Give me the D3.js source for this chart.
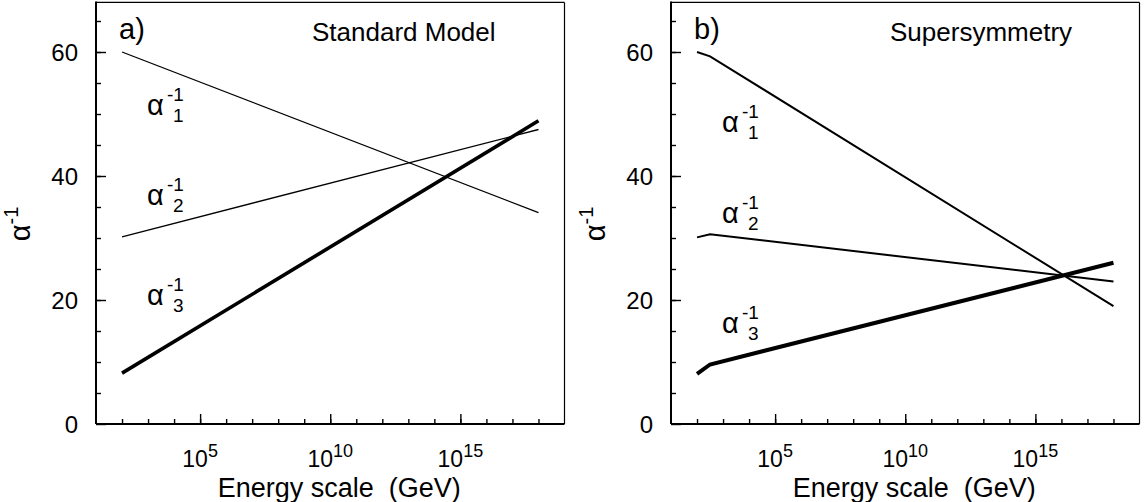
<!DOCTYPE html>
<html>
<head>
<meta charset="utf-8">
<script src="https://cdn.jsdelivr.net/npm/d3@7"></script>
<style>
  body { margin: 0; background: #fff; }
  svg { font-family: "Liberation Sans", Arial, Helvetica, sans-serif; }
</style>
</head>
<body>
<script>
var width = 1144,
    height = 502;

// log10 of energy (GeV) at each line vertex
var smLogE = [2, 18],
    smA1 = [60, 34.1],
    smA2 = [30.2, 47.5],
    smA3 = [8.2, 48.9];

var susyLogE = [2, 2.5, 18],
    susyA1 = [60, 59.3, 19],
    susyA2 = [30.1, 30.6, 23],
    susyA3 = [8.1, 9.6, 26];

var yMajor = [0, 20, 40, 60],
    xMajor = [5, 10, 15];

var panels = [
  { tag: "a)", title: "Standard Model", x0: 96, x1: 564.5, titleX: 312, logE: smLogE,
    series: [{ v: smA1, w: 1.3, sub: "1", lx: 147, ly: 115 },
             { v: smA2, w: 1.3, sub: "2", lx: 147, ly: 205 },
             { v: smA3, w: 3.6, sub: "3", lx: 147, ly: 305 }] },
  { tag: "b)", title: "Supersymmetry", x0: 671, x1: 1139.5, titleX: 890, logE: susyLogE,
    series: [{ v: susyA1, w: 2, sub: "1", lx: 722, ly: 132 },
             { v: susyA2, w: 2, sub: "2", lx: 722, ly: 223 },
             { v: susyA3, w: 4, sub: "3", lx: 722, ly: 333 }] }
];

var svg = d3.select("body").append("svg")
    .attr("width", width)
    .attr("height", height);

panels.forEach(function(p) {
  var x = d3.scaleLog().domain([1e1, 1e19]).range([p.x0, p.x1]);
  var y = d3.scaleLinear().domain([0, 68]).range([424, 2.4]);

  var g = svg.append("g");

  // minor + major ticks, pointing inward
  var xMinor = d3.range(2, 19).map(function(e) { return Math.pow(10, e); });
  g.append("g")
      .attr("transform", "translate(0,424)")
      .call(d3.axisBottom(x).tickValues(xMinor).tickSize(-5).tickSizeOuter(0).tickFormat(""));
  g.append("g")
      .attr("transform", "translate(0,424)")
      .call(d3.axisBottom(x).tickValues(xMajor.map(function(e) { return Math.pow(10, e); }))
        .tickSize(-10).tickSizeOuter(0).tickFormat(""));
  g.append("g")
      .attr("transform", "translate(" + p.x0 + ",0)")
      .call(d3.axisLeft(y).tickValues(d3.range(5, 68, 5)).tickSize(-5).tickSizeOuter(0).tickFormat(""));
  g.append("g")
      .attr("transform", "translate(" + p.x0 + ",0)")
      .call(d3.axisLeft(y).tickValues(yMajor).tickSize(-10).tickSizeOuter(0).tickFormat(""));
  g.selectAll(".domain").remove();
  g.selectAll(".tick line").attr("stroke", "#000").attr("stroke-width", 1.4);

  // frame
  g.append("line").attr("x1", p.x0).attr("x2", p.x1).attr("y1", 2.4).attr("y2", 2.4)
      .attr("stroke", "#000").attr("stroke-width", 1.2);
  g.append("line").attr("x1", p.x1).attr("x2", p.x1).attr("y1", 2.4).attr("y2", 424)
      .attr("stroke", "#000").attr("stroke-width", 1.2);
  g.append("line").attr("x1", p.x0).attr("x2", p.x0).attr("y1", 1.5).attr("y2", 424)
      .attr("stroke", "#000").attr("stroke-width", 2);
  g.append("line").attr("x1", p.x0).attr("x2", p.x1).attr("y1", 424).attr("y2", 424)
      .attr("stroke", "#000").attr("stroke-width", 2);

  // y tick labels
  g.selectAll(".ylab").data(yMajor).enter().append("text")
      .attr("x", p.x0 - 18)
      .attr("y", function(d) { return y(d); })
      .attr("dy", "0.36em")
      .attr("text-anchor", "end")
      .style("font-size", "24px")
      .text(function(d) { return d; });

  // x tick labels 10^n
  var xl = g.selectAll(".xlab").data(xMajor).enter().append("text")
      .attr("x", function(d) { return x(Math.pow(10, d)); })
      .attr("y", 467)
      .attr("text-anchor", "middle")
      .style("font-size", "23px");
  xl.append("tspan").text("10");
  xl.append("tspan").attr("dy", -10).style("font-size", "18px").text(function(d) { return d; });

  // axis titles
  g.append("text")
      .attr("x", (p.x0 + p.x1) / 2 + 9)
      .attr("y", 497)
      .attr("text-anchor", "middle")
      .style("font-size", "27px")
      .style("white-space", "pre")
      .text("Energy scale  (GeV)");

  var yt = g.append("text")
      .attr("transform", "translate(" + (p.x0 - 66) + ",224) rotate(-90)")
      .attr("text-anchor", "middle")
      .style("font-size", "29px");
  yt.append("tspan").text("\u03b1");
  yt.append("tspan").attr("dy", -12).style("font-size", "20px").text("-1");

  g.append("text").attr("x", p.x0 + 23).attr("y", 39)
      .style("font-size", "29px").text(p.tag);
  g.append("text").attr("x", p.titleX).attr("y", 41)
      .style("font-size", "26px").text(p.title);

  // coupling lines
  var line = d3.line()
      .x(function(d, i) { return x(Math.pow(10, p.logE[i])); })
      .y(function(d) { return y(d); });

  p.series.forEach(function(s) {
    g.append("path")
        .attr("d", line(s.v))
        .attr("fill", "none")
        .attr("stroke", "#000")
        .attr("stroke-width", s.w)
        .attr("stroke-linejoin", "miter");

    g.append("text").attr("x", s.lx).attr("y", s.ly)
        .style("font-size", "29px").text("\u03b1");
    g.append("text").attr("x", s.lx + 20).attr("y", s.ly - 14)
        .style("font-size", "19px").text("-1");
    g.append("text").attr("x", s.lx + 26).attr("y", s.ly + 7)
        .style("font-size", "19px").text(s.sub);
  });
});
</script>
</body>
</html>
